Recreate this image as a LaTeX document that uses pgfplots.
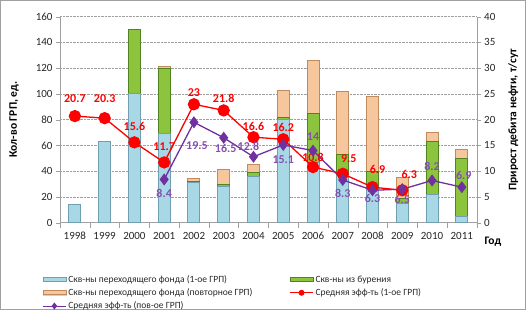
\documentclass[border=0pt]{standalone}
\usepackage{fontspec}
\setmainfont{Carlito}
\usepackage{pgfplots}
\usepackage{pgfplotstable}
\pgfplotsset{compat=1.18}
\definecolor{bL}{HTML}{A8D8E6}
\definecolor{bD}{HTML}{6F9FB0}
\definecolor{gL}{HTML}{8CC43E}
\definecolor{gD}{HTML}{4F8420}
\definecolor{oL}{HTML}{F6C79C}
\definecolor{oD}{HTML}{BF8A5E}
\definecolor{pur}{HTML}{7030A0}
\definecolor{axg}{HTML}{A0A0A0}

% tops of the stacked segments: blue, blue+green, blue+green+orange
\pgfplotstableread{
year blue bg total
1998 14 nan nan
1999 63 nan nan
2000 100 150 nan
2001 69 120 121
2002 31 32 34
2003 28 30 41
2004 36 39 45
2005 80 82 103
2006 47 85 126
2007 37 53 102
2008 28 40 98
2009 15 19 35
2010 22 63 70
2011 5 50 57
}\bars

\pgfplotstableread{
year val dx dy
1998 20.7 0 17
1999 20.3 0 20
2000 15.6 0 16
2001 11.7 0 16
2002 23 0 12
2003 21.8 0 12
2004 16.6 0 11
2005 16.2 0 12
2006 10.8 0 10
2007 9.5 6 15
2008 6.9 5 18
2009 6.3 7 16
}\redl

\pgfplotstableread{
year val dx dy
2001 8.4 0 -14
2002 19.5 3 -23
2003 16.5 2 -11
2004 12.8 -5 10
2005 15.1 0 -15
2006 14 0 14
2007 8.3 0 -13
2008 6.3 0 -8
2009 6.5 0 -10
2010 8.2 0 14
2011 6.9 2 12
}\purl

\pgfplotsset{
  common/.style={
    at={(60pt,87.3pt)}, anchor=south west, scale only axis,
    width=416.7pt, height=206pt,
    xmin=1997.5, xmax=2011.5,
    /pgf/number format/assume math mode=true,
    tick label style={font=\fontsize{11}{13}\selectfont, color=black!85},
    tick align=outside, major tick length=4pt, minor tick length=5pt,
    axis line style={draw=axg},
    tick style={draw=axg},
  },
  barsty/.style={draw=#1D, line width=1pt, fill=#1L},
}

\begin{document}
\begin{tikzpicture}[x=1pt,y=1pt]
\useasboundingbox (0,0) rectangle (526,310);
\draw[axg, line width=0.8pt] (0.5,0.5) rectangle (525.5,309.5);

\begin{axis}[common,
  ymin=0, ymax=160, ytick={0,20,...,160},
  ybar, bar width=12pt, bar shift=0pt,
  unbounded coords=jump,
  axis x line*=bottom, axis y line*=left,
  xtick={1998,...,2011},
  xticklabel style={/pgf/number format/1000 sep=, yshift=-2pt},
  major x tick style={draw=none},
  minor xtick={1997.5,1998.5,...,2011.5},
  ymajorgrids, grid style={axg, densely dotted},
  every axis y label/.style={at={(axis description cs:-0.11,0.5)}, rotate=90, anchor=center},
  ylabel={\bfseries\fontsize{11.5}{13}\selectfont Кол-во ГРП, ед.},
]
\addplot[barsty=o] table[x=year,y=total] {\bars};
\addplot[barsty=g] table[x=year,y=bg] {\bars};
\addplot[barsty=b] table[x=year,y=blue] {\bars};
\end{axis}

\begin{axis}[common,
  ymin=0, ymax=40, ytick={0,5,...,40},
  axis y line*=right, axis x line=none,
  every axis y label/.style={at={(axis description cs:1.088,0.5)}, rotate=90, anchor=center},
  ylabel={\bfseries\fontsize{11.5}{13}\selectfont Прирост дебита нефти, т/сут},
  legend columns=2,
  legend style={draw=none, fill=none, at={(-0.05,-0.235)}, anchor=north west,
    font=\fontsize{9.5}{11}\selectfont, text=black!85, row sep=0.8pt,
    /tikz/every even column/.append style={column sep=35pt}},
  legend cell align=left,
  nodes near coords,
  visualization depends on={\thisrow{dx} \as \lbldx},
  visualization depends on={\thisrow{dy} \as \lbldy},
]
\addlegendimage{legend image code/.code={\fill[bL] (0pt,-2pt) rectangle (23pt,2pt); \draw[bD, line width=0.6pt] (0pt,-2pt) rectangle (23pt,2pt);}}
\addlegendentry{Скв-ны переходящего фонда (1-ое ГРП)}
\addlegendimage{legend image code/.code={\fill[gL] (0pt,-2pt) rectangle (23pt,2pt); \draw[gD, line width=0.6pt] (0pt,-2pt) rectangle (23pt,2pt);}}
\addlegendentry{Скв-ны из бурения}
\addlegendimage{legend image code/.code={\fill[oL] (0pt,-2pt) rectangle (23pt,2pt); \draw[oD, line width=0.6pt] (0pt,-2pt) rectangle (23pt,2pt);}}
\addlegendentry{Скв-ны переходящего фонда (повторное ГРП)}

\addplot[red, line width=1.3pt, mark=*, mark size=5.5pt,
  nodes near coords style={anchor=center, xshift=\lbldx pt, yshift=\lbldy pt, font=\bfseries\fontsize{12}{14}\selectfont, text=red},
  legend image code/.code={\draw[red, line width=1pt] (0pt,0pt) -- (23pt,0pt); \fill[red] (11.5pt,0pt) circle (2.3pt);}]
  table[x=year,y=val] {\redl};
\addlegendentry{Средняя эфф-ть (1-ое ГРП)}
\addplot[pur, line width=1.3pt, mark=diamond*, mark size=5pt,
  nodes near coords style={anchor=center, xshift=\lbldx pt, yshift=\lbldy pt, font=\bfseries\fontsize{12}{14}\selectfont, text=pur!85},
  legend image code/.code={\draw[pur, line width=1pt] (0pt,0pt) -- (23pt,0pt); \fill[pur] (11.5pt,2.5pt) -- (13.5pt,0pt) -- (11.5pt,-2.5pt) -- (9.5pt,0pt) -- cycle;}]
  table[x=year,y=val] {\purl};
\addlegendentry{Средняя эфф-ть (пов-ое ГРП)}
\end{axis}
\node[font=\bfseries\fontsize{11.5}{13}\selectfont, anchor=west] at (481,68) {Год};
\end{tikzpicture}
\end{document}
